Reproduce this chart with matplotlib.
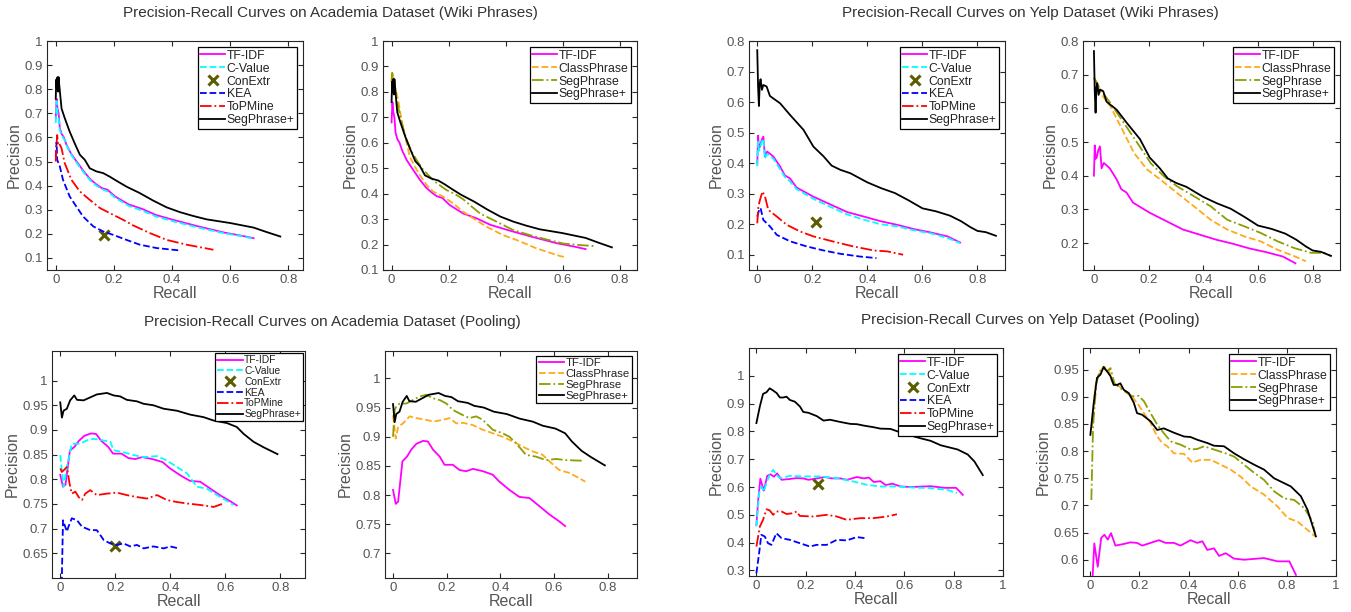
import matplotlib
matplotlib.use("Agg")
import matplotlib.pyplot as plt
from matplotlib.ticker import FuncFormatter

plt.rcParams['font.family'] = ['Liberation Sans', 'DejaVu Sans']

# ---------------- Academia, Wiki Phrases ----------------
aw_segplus_r = [0, 0.002, 0.004, 0.006, 0.008, 0.010, 0.012, 0.020, 0.031, 0.048, 0.065, 0.083, 0.100,
                0.117, 0.140, 0.163, 0.186, 0.209, 0.243, 0.289, 0.335, 0.381, 0.427, 0.473, 0.519,
                0.599, 0.680, 0.726, 0.772]
aw_segplus_p = [0.76, 0.84, 0.80, 0.85, 0.79, 0.85, 0.82, 0.72, 0.68, 0.624, 0.576, 0.528, 0.507,
                0.472, 0.459, 0.452, 0.437, 0.42, 0.396, 0.369, 0.338, 0.31, 0.29, 0.274, 0.26,
                0.245, 0.226, 0.207, 0.189]
aw_tfidf_r = [0, 0.003, 0.006, 0.010, 0.014, 0.020, 0.028, 0.037, 0.053, 0.076, 0.099, 0.120, 0.140,
              0.158, 0.178, 0.204, 0.251, 0.298, 0.345, 0.410, 0.490, 0.580, 0.640, 0.680]
aw_tfidf_p = [0.68, 0.76, 0.72, 0.70, 0.64, 0.615, 0.60, 0.57, 0.532, 0.493, 0.455, 0.425, 0.405,
              0.39, 0.383, 0.355, 0.322, 0.303, 0.278, 0.256, 0.231, 0.205, 0.192, 0.182]
aw_cvalue_r = [0, 0.003, 0.006, 0.010, 0.014, 0.020, 0.030, 0.040, 0.055, 0.076, 0.099, 0.120, 0.140,
               0.160, 0.180, 0.204, 0.251, 0.298, 0.345, 0.410, 0.490, 0.580, 0.640, 0.680]
aw_cvalue_p = [0.66, 0.75, 0.70, 0.68, 0.63, 0.61, 0.59, 0.56, 0.525, 0.488, 0.45, 0.42, 0.40,
               0.385, 0.375, 0.35, 0.316, 0.296, 0.272, 0.25, 0.226, 0.202, 0.19, 0.18]
aw_topmine_r = [0, 0.002, 0.005, 0.008, 0.011, 0.014, 0.020, 0.031, 0.054, 0.083, 0.117, 0.152, 0.186,
                0.232, 0.266, 0.324, 0.381, 0.45, 0.542]
aw_topmine_p = [0.50, 0.56, 0.61, 0.575, 0.58, 0.57, 0.555, 0.493, 0.424, 0.376, 0.341, 0.307, 0.286,
                0.258, 0.235, 0.203, 0.175, 0.155, 0.134]
aw_kea_r = [0, 0.003, 0.005, 0.014, 0.025, 0.048, 0.071, 0.094, 0.129, 0.163, 0.197, 0.243, 0.289,
            0.347, 0.427]
aw_kea_p = [0.52, 0.58, 0.507, 0.48, 0.424, 0.355, 0.313, 0.272, 0.231, 0.21, 0.196, 0.175, 0.155,
            0.141, 0.131]
aw_conextr = (0.165, 0.195)
aw_class_r = [0, 0.002, 0.006, 0.012, 0.023, 0.035, 0.053, 0.064, 0.082, 0.099, 0.123, 0.146, 0.181,
              0.216, 0.251, 0.286, 0.333, 0.391, 0.438, 0.508, 0.59, 0.61]
aw_class_p = [0.84, 0.875, 0.86, 0.82, 0.768, 0.689, 0.598, 0.545, 0.506, 0.473, 0.434, 0.408, 0.388,
              0.362, 0.329, 0.303, 0.27, 0.237, 0.218, 0.185, 0.155, 0.15]
aw_seg_r = [0, 0.002, 0.005, 0.01, 0.018, 0.035, 0.053, 0.070, 0.088, 0.11, 0.134, 0.16, 0.193, 0.22,
            0.251, 0.28, 0.31, 0.368, 0.426, 0.485, 0.543, 0.602, 0.66, 0.712]
aw_seg_p = [0.84, 0.875, 0.86, 0.84, 0.768, 0.68, 0.611, 0.565, 0.532, 0.495, 0.467, 0.44, 0.414, 0.40,
            0.378, 0.35, 0.322, 0.29, 0.257, 0.237, 0.22, 0.204, 0.198, 0.194]

# ---------------- Yelp, Wiki Phrases ----------------
yw_segplus_r = [0, 0.003, 0.006, 0.009, 0.012, 0.017, 0.022, 0.034, 0.046, 0.058, 0.083, 0.119, 0.168,
                0.204, 0.241, 0.270, 0.302, 0.338, 0.40, 0.45, 0.50, 0.55, 0.60, 0.65, 0.70, 0.74,
                0.775, 0.80, 0.83, 0.867]
yw_segplus_p = [0.77, 0.65, 0.587, 0.66, 0.675, 0.64, 0.656, 0.651, 0.62, 0.612, 0.596, 0.558, 0.509,
                0.454, 0.422, 0.392, 0.378, 0.367, 0.337, 0.318, 0.302, 0.278, 0.252, 0.242, 0.228,
                0.21, 0.19, 0.178, 0.174, 0.162]
yw_tfidf_r = [0, 0.003, 0.006, 0.010, 0.016, 0.022, 0.028, 0.036, 0.058, 0.083, 0.10, 0.119, 0.143,
              0.204, 0.265, 0.326, 0.387, 0.447, 0.508, 0.569, 0.63, 0.691, 0.737]
yw_tfidf_p = [0.40, 0.49, 0.45, 0.454, 0.476, 0.487, 0.422, 0.438, 0.422, 0.389, 0.36, 0.35, 0.32,
              0.29, 0.265, 0.24, 0.225, 0.21, 0.198, 0.184, 0.173, 0.16, 0.14]
yw_cvalue_r = [0, 0.003, 0.006, 0.010, 0.016, 0.022, 0.028, 0.036, 0.058, 0.083, 0.10, 0.119, 0.143,
               0.204, 0.265, 0.326, 0.387, 0.447, 0.508, 0.569, 0.63, 0.691, 0.737]
yw_cvalue_p = [0.39, 0.47, 0.44, 0.45, 0.47, 0.48, 0.415, 0.43, 0.415, 0.38, 0.355, 0.34, 0.315,
               0.283, 0.257, 0.232, 0.215, 0.20, 0.193, 0.18, 0.17, 0.155, 0.138]
yw_topmine_r = [0, 0.004, 0.01, 0.019, 0.028, 0.04, 0.071, 0.107, 0.156, 0.204, 0.277, 0.35, 0.423,
                0.472, 0.53]
yw_topmine_p = [0.203, 0.258, 0.28, 0.307, 0.291, 0.247, 0.225, 0.198, 0.176, 0.16, 0.143, 0.127,
                0.114, 0.111, 0.10]
yw_kea_r = [0, 0.007, 0.012, 0.022, 0.046, 0.071, 0.119, 0.18, 0.241, 0.302, 0.374, 0.433]
yw_kea_p = [0.225, 0.247, 0.253, 0.214, 0.193, 0.165, 0.144, 0.127, 0.114, 0.103, 0.094, 0.089]
yw_conextr = (0.214, 0.206)
yw_class_r = [0, 0.024, 0.061, 0.098, 0.147, 0.195, 0.244, 0.305, 0.366, 0.427, 0.488, 0.549, 0.61,
              0.672, 0.733, 0.775]
yw_class_p = [0.689, 0.645, 0.605, 0.546, 0.467, 0.418, 0.388, 0.348, 0.309, 0.269, 0.24, 0.22, 0.205,
              0.18, 0.161, 0.146]
yw_seg_r = [0, 0.024, 0.061, 0.11, 0.159, 0.208, 0.256, 0.305, 0.366, 0.427, 0.488, 0.549, 0.61,
            0.672, 0.733, 0.794, 0.842, 0.867]
yw_seg_p = [0.692, 0.655, 0.615, 0.556, 0.497, 0.437, 0.398, 0.368, 0.339, 0.309, 0.269, 0.25, 0.23,
            0.205, 0.185, 0.171, 0.171, 0.161]

# ---------------- Academia, Pooling ----------------
ap_segplus_r = [0, 0.006, 0.012, 0.024, 0.036, 0.051, 0.061, 0.085, 0.109, 0.133, 0.17, 0.194, 0.218,
                0.242, 0.279, 0.303, 0.339, 0.376, 0.424, 0.473, 0.521, 0.558, 0.606, 0.642, 0.667,
                0.703, 0.739, 0.79]
ap_segplus_p = [0.956, 0.925, 0.939, 0.943, 0.96, 0.97, 0.961, 0.96, 0.966, 0.972, 0.975, 0.97, 0.968,
                0.961, 0.958, 0.953, 0.95, 0.943, 0.939, 0.931, 0.926, 0.919, 0.914, 0.906, 0.892,
                0.876, 0.865, 0.851]
ap_tfidf_r = [0, 0.01, 0.019, 0.035, 0.052, 0.068, 0.087, 0.112, 0.13, 0.149, 0.174, 0.192, 0.223,
              0.248, 0.273, 0.298, 0.335, 0.372, 0.397, 0.434, 0.471, 0.509, 0.546, 0.583, 0.62, 0.642]
ap_tfidf_p = [0.809, 0.785, 0.789, 0.858, 0.866, 0.878, 0.888, 0.893, 0.892, 0.878, 0.866, 0.852,
              0.852, 0.843, 0.841, 0.845, 0.841, 0.835, 0.823, 0.809, 0.797, 0.795, 0.781, 0.767,
              0.755, 0.747]
ap_cvalue_r = [0, 0.012, 0.024, 0.042, 0.073, 0.097, 0.121, 0.145, 0.182, 0.194, 0.23, 0.267, 0.303,
               0.352, 0.388, 0.424, 0.461, 0.497, 0.533, 0.582, 0.63]
ap_cvalue_p = [0.849, 0.785, 0.825, 0.872, 0.872, 0.879, 0.882, 0.88, 0.876, 0.859, 0.855, 0.849,
               0.845, 0.847, 0.838, 0.825, 0.812, 0.785, 0.781, 0.764, 0.748]
ap_topmine_r = [0, 0.006, 0.012, 0.024, 0.034, 0.042, 0.055, 0.067, 0.079, 0.091, 0.109, 0.133, 0.17,
                0.206, 0.242, 0.279, 0.315, 0.352, 0.388, 0.424, 0.461, 0.509, 0.558, 0.588]
ap_topmine_p = [0.822, 0.815, 0.818, 0.825, 0.791, 0.771, 0.775, 0.764, 0.758, 0.771, 0.778, 0.768,
                0.771, 0.773, 0.768, 0.764, 0.761, 0.768, 0.758, 0.754, 0.751, 0.748, 0.744, 0.75]
ap_kea_r = [0.004, 0.01, 0.018, 0.024, 0.03, 0.042, 0.061, 0.079, 0.109, 0.133, 0.158, 0.182, 0.206,
            0.23, 0.255, 0.279, 0.303, 0.339, 0.376, 0.4, 0.43]
ap_kea_p = [0.55, 0.717, 0.704, 0.694, 0.704, 0.721, 0.717, 0.704, 0.697, 0.697, 0.677, 0.67, 0.667,
            0.67, 0.664, 0.667, 0.66, 0.664, 0.66, 0.664, 0.66]
ap_conextr = (0.2, 0.665)
ap_class_r = [0, 0.01, 0.019, 0.037, 0.062, 0.087, 0.124, 0.149, 0.186, 0.211, 0.236, 0.261, 0.298,
              0.335, 0.372, 0.409, 0.447, 0.484, 0.521, 0.558, 0.583, 0.62, 0.658, 0.695, 0.717]
ap_class_p = [0.937, 0.897, 0.917, 0.923, 0.935, 0.932, 0.929, 0.926, 0.929, 0.932, 0.923, 0.924,
              0.92, 0.912, 0.906, 0.9, 0.892, 0.883, 0.875, 0.869, 0.858, 0.843, 0.838, 0.829, 0.823]
ap_seg_r = [0, 0.006, 0.012, 0.025, 0.05, 0.074, 0.099, 0.124, 0.149, 0.174, 0.199, 0.223, 0.261,
            0.285, 0.31, 0.335, 0.372, 0.409, 0.434, 0.459, 0.496, 0.533, 0.571, 0.608, 0.645, 0.707]
ap_seg_p = [0.90, 0.946, 0.952, 0.957, 0.957, 0.963, 0.969, 0.972, 0.966, 0.963, 0.957, 0.946, 0.937,
            0.932, 0.935, 0.929, 0.912, 0.906, 0.90, 0.889, 0.869, 0.866, 0.86, 0.862, 0.86, 0.859]

# ---------------- Yelp, Pooling ----------------
yp_segplus_r = [0, 0.014, 0.027, 0.041, 0.054, 0.068, 0.082, 0.095, 0.109, 0.122, 0.136, 0.156, 0.177,
                0.19, 0.211, 0.245, 0.272, 0.299, 0.34, 0.381, 0.408, 0.435, 0.476, 0.503, 0.544,
                0.585, 0.626, 0.667, 0.707, 0.748, 0.789, 0.816, 0.857, 0.884, 0.918]
yp_segplus_p = [0.83, 0.89, 0.935, 0.941, 0.955, 0.947, 0.938, 0.922, 0.922, 0.925, 0.913, 0.907,
                0.889, 0.87, 0.867, 0.855, 0.839, 0.842, 0.834, 0.827, 0.826, 0.821, 0.815, 0.81,
                0.809, 0.796, 0.785, 0.775, 0.766, 0.75, 0.741, 0.735, 0.717, 0.692, 0.643]
yp_tfidf_r = [0, 0.007, 0.016, 0.03, 0.044, 0.057, 0.071, 0.084, 0.102, 0.136, 0.163, 0.19, 0.211,
              0.245, 0.279, 0.306, 0.34, 0.367, 0.408, 0.435, 0.456, 0.476, 0.503, 0.524, 0.551,
              0.585, 0.626, 0.653, 0.707, 0.762, 0.81, 0.837]
yp_tfidf_p = [0.464, 0.55, 0.63, 0.587, 0.64, 0.646, 0.637, 0.649, 0.626, 0.629, 0.632, 0.631, 0.626,
              0.631, 0.636, 0.631, 0.631, 0.626, 0.636, 0.631, 0.634, 0.618, 0.621, 0.607, 0.612,
              0.602, 0.6, 0.601, 0.603, 0.597, 0.597, 0.572]
yp_cvalue_r = [0, 0.011, 0.02, 0.03, 0.043, 0.054, 0.068, 0.081, 0.095, 0.136, 0.19, 0.258, 0.326,
               0.393, 0.448, 0.502, 0.57, 0.638, 0.706, 0.773, 0.814]
yp_cvalue_p = [0.458, 0.578, 0.602, 0.584, 0.62, 0.644, 0.662, 0.644, 0.632, 0.64, 0.638, 0.638,
               0.632, 0.62, 0.608, 0.602, 0.602, 0.598, 0.596, 0.59, 0.578]
yp_topmine_r = [0, 0.014, 0.027, 0.041, 0.054, 0.068, 0.081, 0.102, 0.122, 0.149, 0.163, 0.176, 0.231,
                0.285, 0.326, 0.366, 0.421, 0.475, 0.529, 0.57]
yp_topmine_p = [0.386, 0.458, 0.482, 0.52, 0.516, 0.5, 0.512, 0.512, 0.503, 0.506, 0.512, 0.496,
                0.494, 0.5, 0.494, 0.482, 0.488, 0.488, 0.494, 0.502]
yp_kea_r = [0, 0.011, 0.02, 0.034, 0.047, 0.061, 0.081, 0.102, 0.136, 0.176, 0.217, 0.244, 0.285,
            0.326, 0.366, 0.407, 0.441]
yp_kea_p = [0.29, 0.362, 0.428, 0.422, 0.398, 0.392, 0.434, 0.416, 0.41, 0.398, 0.386, 0.392, 0.392,
            0.41, 0.408, 0.42, 0.416]
yp_conextr = (0.251, 0.612)
yp_class_r = [0.007, 0.02, 0.034, 0.054, 0.075, 0.088, 0.109, 0.136, 0.163, 0.19, 0.218, 0.245, 0.272,
              0.293, 0.313, 0.34, 0.381, 0.415, 0.449, 0.49, 0.531, 0.571, 0.612, 0.653, 0.707, 0.762,
              0.803, 0.844, 0.884, 0.914]
yp_class_p = [0.846, 0.919, 0.941, 0.956, 0.95, 0.928, 0.922, 0.913, 0.904, 0.889, 0.87, 0.852, 0.827,
              0.815, 0.809, 0.796, 0.795, 0.779, 0.784, 0.784, 0.775, 0.766, 0.753, 0.735, 0.72, 0.698,
              0.677, 0.67, 0.655, 0.643]
yp_seg_r = [0.004, 0.011, 0.024, 0.038, 0.054, 0.068, 0.082, 0.098, 0.122, 0.15, 0.17, 0.197, 0.218,
            0.245, 0.272, 0.299, 0.327, 0.367, 0.408, 0.435, 0.463, 0.503, 0.544, 0.585, 0.626, 0.667,
            0.707, 0.748, 0.789, 0.83, 0.871, 0.905, 0.914]
yp_seg_p = [0.71, 0.846, 0.925, 0.947, 0.953, 0.947, 0.953, 0.925, 0.916, 0.907, 0.901, 0.902, 0.892,
            0.87, 0.849, 0.833, 0.818, 0.812, 0.803, 0.804, 0.809, 0.803, 0.797, 0.79, 0.775, 0.76,
            0.747, 0.726, 0.713, 0.71, 0.695, 0.67, 0.649]

FRAME = '#262626'
LABEL = '#555555'
STYLE = {
    'TF-IDF': dict(color='#ff00ff', ls='-'),
    'C-Value': dict(color='#00ffff', ls='--'),
    'KEA': dict(color='#0000ff', ls='--'),
    'ToPMine': dict(color='#ff0000', ls='-.'),
    'SegPhrase+': dict(color='black', ls='-'),
    'ClassPhrase': dict(color='#ffaa1a', ls='--'),
    'SegPhrase': dict(color='#8c9e00', ls='-.'),
}
CONEXTR_COLOR = '#5c5c00'


def px_axes(fig, left, top, right, bottom):
    W, H = 1351.0, 612.0
    return fig.add_axes([left / W, 1 - bottom / H, (right - left) / W, (bottom - top) / H])


def baseline_panel(ax, data):
    # data: list of (label, r, p) or ('ConExtr', (x, y))
    for label, *rest in data:
        if label == 'ConExtr':
            x, y = rest[0]
            ax.plot([x], [y], ls='none', marker='x', ms=6.5, mew=2.2,
                    color=CONEXTR_COLOR, label=label)
        else:
            r, p = rest
            ax.plot(r, p, lw=1.3, label=label, **STYLE[label])


def style_axes(ax, xlim, ylim, yticks, xticks, leg_size=8.8, leg_pad=0.5, handle_len=2.0):
    ax.set_xlim(*xlim)
    ax.set_ylim(*ylim)
    ax.set_xticks(xticks)
    ax.set_yticks(yticks)
    fmt = FuncFormatter(lambda v, _: f'{v:g}')
    ax.xaxis.set_major_formatter(fmt)
    ax.yaxis.set_major_formatter(fmt)
    ax.tick_params(direction='in', top=True, right=True, length=3.5, width=0.8,
                   labelsize=9.5, color=FRAME, labelcolor=LABEL, pad=3)
    for s in ax.spines.values():
        s.set_color(FRAME)
        s.set_linewidth(0.8)
    ax.set_xlabel('Recall', fontsize=11.5, color=LABEL, labelpad=0)
    ax.set_ylabel('Precision', fontsize=11.5, color=LABEL, labelpad=2)
    leg = ax.legend(loc='upper right', fontsize=leg_size, frameon=True, fancybox=False,
                    framealpha=1, edgecolor='black', borderpad=0.2, labelspacing=0.08,
                    handlelength=handle_len, handletextpad=0.15, borderaxespad=leg_pad)
    leg.get_frame().set_linewidth(0.9)
    for t in leg.get_texts():
        t.set_color('#222222')


fig = plt.figure(figsize=(13.51, 6.12), dpi=100)

x8 = [0, 0.2, 0.4, 0.6, 0.8]
x10 = [0, 0.2, 0.4, 0.6, 0.8, 1]

# top row
ax1 = px_axes(fig, 47, 41, 303, 270)
baseline_panel(ax1, [('TF-IDF', aw_tfidf_r, aw_tfidf_p), ('C-Value', aw_cvalue_r, aw_cvalue_p),
                     ('ConExtr', aw_conextr), ('KEA', aw_kea_r, aw_kea_p),
                     ('ToPMine', aw_topmine_r, aw_topmine_p),
                     ('SegPhrase+', aw_segplus_r, aw_segplus_p)])
style_axes(ax1, (-0.03, 0.85), (0.05, 1.0), [0.1, 0.2, 0.3, 0.4, 0.5, 0.6, 0.7, 0.8, 0.9, 1], x8)

ax2 = px_axes(fig, 383, 41, 637, 270)
baseline_panel(ax2, [('TF-IDF', aw_tfidf_r, aw_tfidf_p), ('ClassPhrase', aw_class_r, aw_class_p),
                     ('SegPhrase', aw_seg_r, aw_seg_p),
                     ('SegPhrase+', aw_segplus_r, aw_segplus_p)])
style_axes(ax2, (-0.03, 0.86), (0.1, 1.0), [0.1, 0.2, 0.3, 0.4, 0.5, 0.6, 0.7, 0.8, 0.9, 1], x8)

ax3 = px_axes(fig, 749, 41, 1005, 270)
baseline_panel(ax3, [('TF-IDF', yw_tfidf_r, yw_tfidf_p), ('C-Value', yw_cvalue_r, yw_cvalue_p),
                     ('ConExtr', yw_conextr), ('KEA', yw_kea_r, yw_kea_p),
                     ('ToPMine', yw_topmine_r, yw_topmine_p),
                     ('SegPhrase+', yw_segplus_r, yw_segplus_p)])
style_axes(ax3, (-0.03, 0.9), (0.05, 0.8), [0.1, 0.2, 0.3, 0.4, 0.5, 0.6, 0.7, 0.8], x8)

ax4 = px_axes(fig, 1083, 41, 1340, 270)
baseline_panel(ax4, [('TF-IDF', yw_tfidf_r, yw_tfidf_p), ('ClassPhrase', yw_class_r, yw_class_p),
                     ('SegPhrase', yw_seg_r, yw_seg_p),
                     ('SegPhrase+', yw_segplus_r, yw_segplus_p)])
style_axes(ax4, (-0.04, 0.9), (0.12, 0.8), [0.2, 0.3, 0.4, 0.5, 0.6, 0.7, 0.8], x8)

# bottom row
ax5 = px_axes(fig, 52, 351, 305, 578)
baseline_panel(ax5, [('TF-IDF', ap_tfidf_r, ap_tfidf_p), ('C-Value', ap_cvalue_r, ap_cvalue_p),
                     ('ConExtr', ap_conextr), ('KEA', ap_kea_r, ap_kea_p),
                     ('ToPMine', ap_topmine_r, ap_topmine_p),
                     ('SegPhrase+', ap_segplus_r, ap_segplus_p)])
style_axes(ax5, (-0.03, 0.89), (0.6, 1.06), [0.65, 0.7, 0.75, 0.8, 0.85, 0.9, 0.95, 1], x8,
           leg_size=7.4, leg_pad=0.2, handle_len=2.5)

ax6 = px_axes(fig, 385, 351, 637, 578)
baseline_panel(ax6, [('TF-IDF', ap_tfidf_r, ap_tfidf_p), ('ClassPhrase', ap_class_r, ap_class_p),
                     ('SegPhrase', ap_seg_r, ap_seg_p),
                     ('SegPhrase+', ap_segplus_r, ap_segplus_p)])
style_axes(ax6, (-0.03, 0.91), (0.658, 1.047), [0.7, 0.75, 0.8, 0.85, 0.9, 0.95, 1], x8,
           leg_size=8.2, leg_pad=0.45, handle_len=2.2)

ax7 = px_axes(fig, 749, 348, 1003, 576)
baseline_panel(ax7, [('TF-IDF', yp_tfidf_r, yp_tfidf_p), ('C-Value', yp_cvalue_r, yp_cvalue_p),
                     ('ConExtr', yp_conextr), ('KEA', yp_kea_r, yp_kea_p),
                     ('ToPMine', yp_topmine_r, yp_topmine_p),
                     ('SegPhrase+', yp_segplus_r, yp_segplus_p)])
style_axes(ax7, (-0.03, 1.0), (0.28, 1.1), [0.3, 0.4, 0.5, 0.6, 0.7, 0.8, 0.9, 1], x10)

ax8 = px_axes(fig, 1083, 348, 1336, 576)
baseline_panel(ax8, [('TF-IDF', yp_tfidf_r, yp_tfidf_p), ('ClassPhrase', yp_class_r, yp_class_p),
                     ('SegPhrase', yp_seg_r, yp_seg_p),
                     ('SegPhrase+', yp_segplus_r, yp_segplus_p)])
style_axes(ax8, (-0.03, 1.0), (0.57, 0.99), [0.6, 0.65, 0.7, 0.75, 0.8, 0.85, 0.9, 0.95], x10)

# group titles
W, H = 1351.0, 612.0
title_kw = dict(ha='center', va='center', fontsize=11, color='#333333')
fig.text(330 / W, 1 - 13 / H, 'Precision-Recall Curves on Academia Dataset (Wiki Phrases)', **title_kw)
fig.text(1030 / W, 1 - 13 / H, 'Precision-Recall Curves on Yelp Dataset (Wiki Phrases)', **title_kw)
fig.text(332 / W, 1 - 322 / H, 'Precision-Recall Curves on Academia Dataset (Pooling)', **title_kw)
fig.text(1030 / W, 1 - 320 / H, 'Precision-Recall Curves on Yelp Dataset (Pooling)', **title_kw)

fig.savefig('out.png', dpi=100, facecolor='white')
